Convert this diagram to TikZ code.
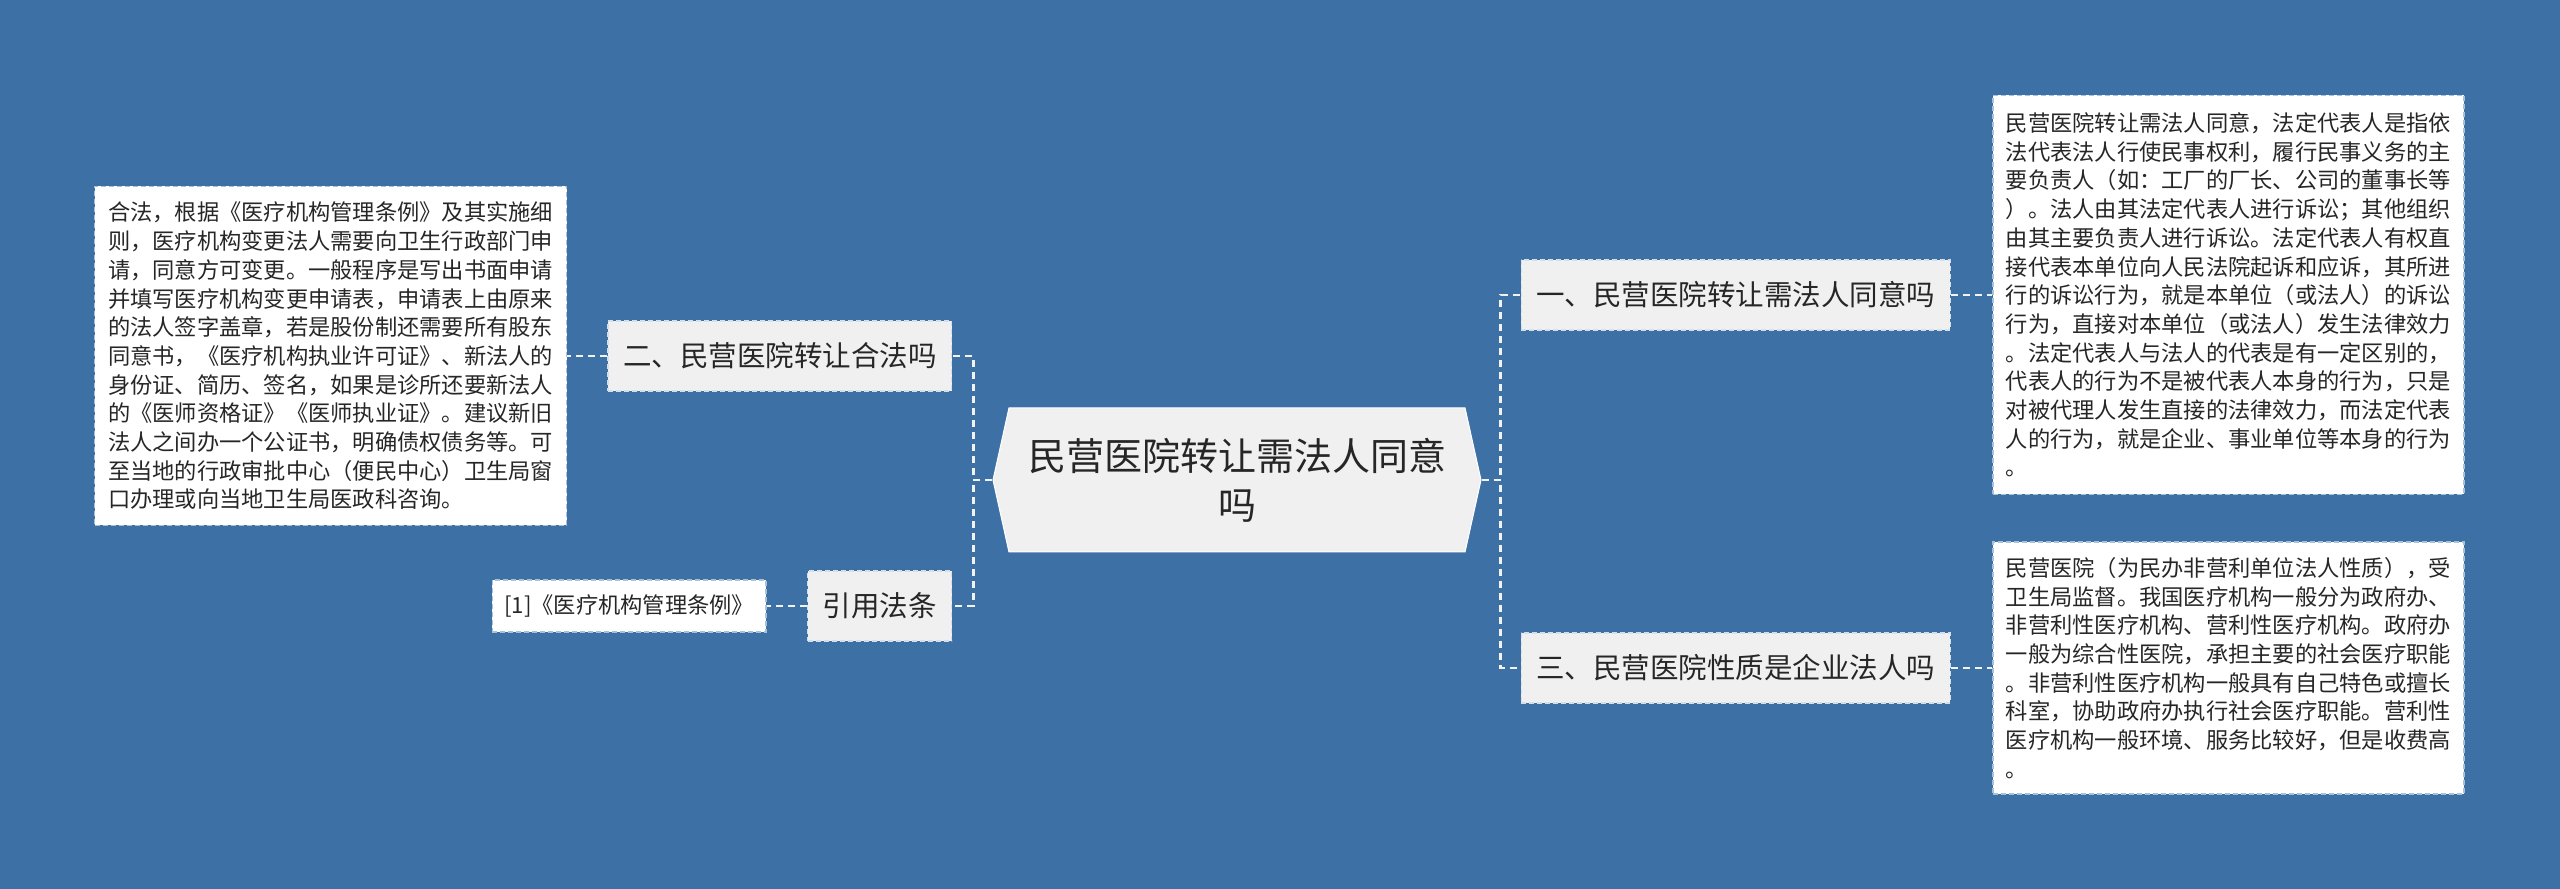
\documentclass[tikz,border=0pt]{standalone}
\usepackage{fontspec}
\setmainfont{Noto Sans CJK SC}
\usepackage{tikz}
\usetikzlibrary{shapes.symbols,positioning,calc}
\definecolor{mapbg}{HTML}{3D71A5}
\definecolor{mapnode}{HTML}{F0F0F0}
\definecolor{mapedge}{HTML}{A9C0D8}
\definecolor{maptext}{HTML}{262626}
\definecolor{mapline}{HTML}{F2F2F2}
\tikzstyle{hub} = [shape=signal, signal to=west and east, signal pointer angle=155, draw=white, line width=1pt,
    fill=mapnode, minimum width=488pt, minimum height=144pt, inner sep=0pt, align=center, text=maptext,
    font=\fontsize{38}{49}\selectfont]
\tikzstyle{branch} = [rectangle, draw=mapedge!50!white, dash pattern=on 5pt off 3pt, line width=1.5pt,
    fill=mapnode, minimum height=70pt, inner xsep=15pt, text=maptext, font=\fontsize{28.5}{34}\selectfont]
\tikzstyle{detail} = [rectangle, draw=mapedge, dash pattern=on 5pt off 3pt, line width=1.5pt, fill=white,
    align=left, inner xsep=13pt, inner ysep=0pt, text=maptext, font=\fontsize{22.25}{28.7}\selectfont]
\tikzstyle{leaf} = [detail, align=center, minimum height=52pt, inner xsep=12pt]
\tikzstyle{link} = [draw=mapline, line width=2.5pt, dash pattern=on 7pt off 5pt]

\begin{document}
\begin{tikzpicture}[x=1pt,y=1pt]
\fill[mapbg] (0,0) rectangle (2560,889);
\useasboundingbox (0,0) rectangle (2560,889);

\node[hub] (root) at (1237,409) {民营医院转让需法人同意\\吗};
\node[branch, anchor=west] (q1) at ($(root.east)+(39,185)$) {一、民营医院转让需法人同意吗};
\node[branch, anchor=west] (q3) at ($(root.east)+(39,-188)$) {三、民营医院性质是企业法人吗};
\node[branch, anchor=east] (q2) at ($(root.west)+(-40,124)$) {二、民营医院转让合法吗};
\node[branch, anchor=east] (cite) at ($(root.west)+(-40,-126)$) {引用法条};

\node[detail, right=41pt of q1, minimum width=471pt, minimum height=399pt] (a1) {民营医院转让需法人同意，法定代表人是指依\\法代表法人行使民事权利，履行民事义务的主\\要负责人（如：工厂的厂长、公司的董事长等\\）。法人由其法定代表人进行诉讼；其他组织\\由其主要负责人进行诉讼。法定代表人有权直\\接代表本单位向人民法院起诉和应诉，其所进\\行的诉讼行为，就是本单位（或法人）的诉讼\\行为，直接对本单位（或法人）发生法律效力\\。法定代表人与法人的代表是有一定区别的，\\代表人的行为不是被代表人本身的行为，只是\\对被代理人发生直接的法律效力，而法定代表\\人的行为，就是企业、事业单位等本身的行为\\。};
\node[detail, right=41pt of q3, minimum width=471pt, minimum height=252pt] (a3) {民营医院（为民办非营利单位法人性质），受\\卫生局监督。我国医疗机构一般分为政府办、\\非营利性医疗机构、营利性医疗机构。政府办\\一般为综合性医院，承担主要的社会医疗职能\\。非营利性医疗机构一般具有自己特色或擅长\\科室，协助政府办执行社会医疗职能。营利性\\医疗机构一般环境、服务比较好，但是收费高\\。};
\node[detail, left=40pt of q2, minimum width=472pt, minimum height=339pt] (a2) {合法，根据《医疗机构管理条例》及其实施细\\则，医疗机构变更法人需要向卫生行政部门申\\请，同意方可变更。一般程序是写出书面申请\\并填写医疗机构变更申请表，申请表上由原来\\的法人签字盖章，若是股份制还需要所有股东\\同意书，《医疗机构执业许可证》、新法人的\\身份证、简历、签名，如果是诊所还要新法人\\的《医师资格证》《医师执业证》。建议新旧\\法人之间办一个公证书，明确债权债务等。可\\至当地的行政审批中心（便民中心）卫生局窗\\口办理或向当地卫生局医政科咨询。};
\node[leaf, left=40pt of cite] (law) {[1]《医疗机构管理条例》};

\draw[link] (root.west) -- ++(-19,0) |- (q2.east);
\draw[link] (root.west) -- ++(-19,0) |- (cite.east);
\draw[link] (root.east) -- ++(19,0) |- (q1.west);
\draw[link] (root.east) -- ++(19,0) |- (q3.west);
\draw[link] (q1.east) -- (q1.east -| a1.west);
\draw[link] (q3.east) -- (q3.east -| a3.west);
\draw[link] (q2.west) -- (q2.west -| a2.east);
\draw[link] (cite.west) -- (law.east);
\end{tikzpicture}
\end{document}
